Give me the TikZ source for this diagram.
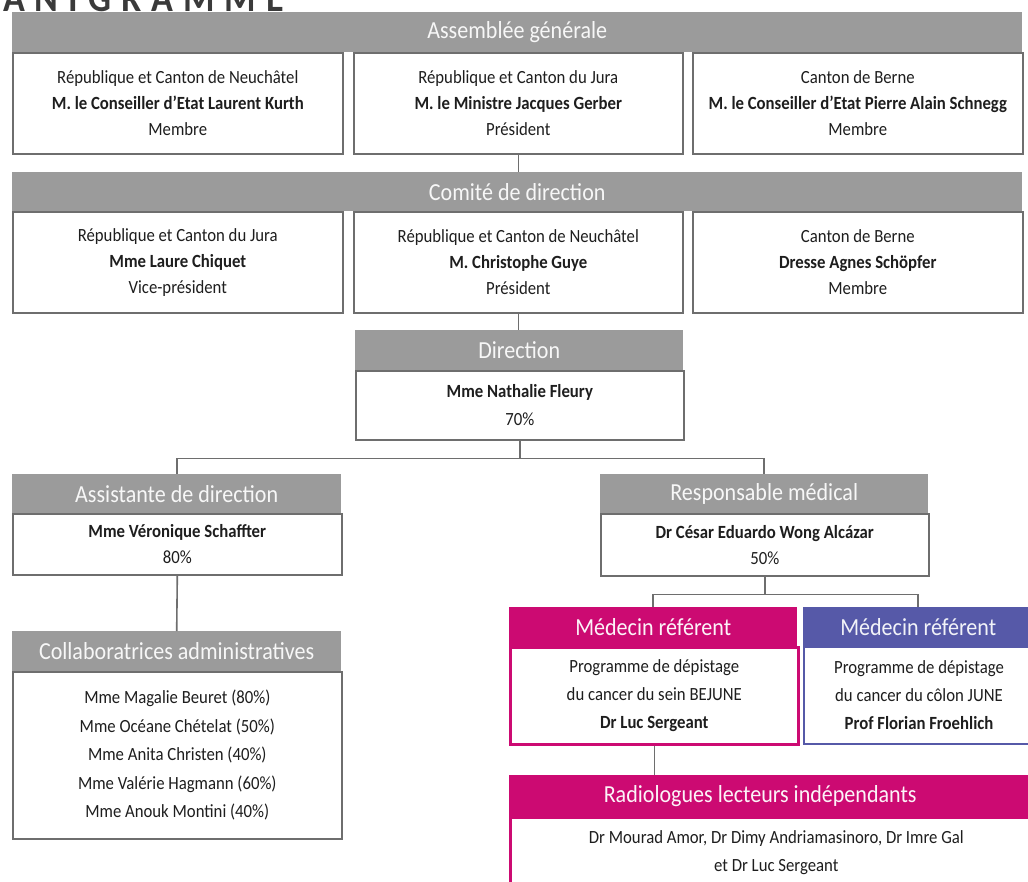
\documentclass[tikz,border=0pt]{standalone}
\usepackage{fontspec}
\setmainfont{Carlito}[FakeStretch=0.9]
\definecolor{hdrgray}{HTML}{9B9B9B}
\definecolor{boxline}{HTML}{6E6E6E}
\definecolor{pinkc}{HTML}{CC0A72}
\definecolor{bluec}{HTML}{5659A8}
\definecolor{txt}{HTML}{1E1E1E}
\definecolor{titlec}{HTML}{3A3A3A}
\tikzset{
  hdr/.style={fill=hdrgray, text=white!92!hdrgray, font=\fontsize{24.5}{26}\selectfont,
    inner sep=0pt, anchor=north west, minimum height=40pt},
  body/.style={draw=boxline, line width=1.6pt, fill=white, text=txt, align=center,
    anchor=north west, inner sep=0pt, font=\fontsize{18.6}{26}\selectfont},
  bodyw/.style={body, font=\fontsize{18.6}{28}\selectfont},
  pinkhdr/.style={hdr, fill=pinkc, text=white!95!pinkc},
  bluehdr/.style={hdr, fill=bluec, text=white!92!bluec},
  pinkbody/.style={bodyw, draw=pinkc, line width=2.6pt},
  bluebody/.style={bodyw, draw=bluec, line width=2pt},
  conn/.style={draw=boxline, line width=1.6pt},
}
\begin{document}
\begin{tikzpicture}[x=1pt,y=-1pt]
\useasboundingbox[fill=white] (0,0) rectangle (1028,881);
% title (clipped by the page edge)
\node[anchor=base east, inner sep=0pt, text=titlec,
  font=\fontsize{40}{42}\selectfont\bfseries\addfontfeatures{LetterSpace=25}] (title) at (284,11) {ORGANIGRAMME};

% Assemblee generale
\node[hdr, minimum width=1010pt] (agH) at (12,12) {Assemblée générale};
\node[body, minimum width=330pt, minimum height=101pt] (ag1) at (12,52)
  {République et Canton de Neuchâtel\\\textbf{M. le Conseiller d’Etat Laurent Kurth}\\Membre};
\node[body, minimum width=329pt, minimum height=101pt] (ag2) at (353,52)
  {République et Canton du Jura\\\textbf{M. le Ministre Jacques Gerber}\\Président};
\node[body, minimum width=330pt, minimum height=101pt] (ag3) at (692,52)
  {Canton de Berne\\\textbf{M. le Conseiller d’Etat Pierre Alain Schnegg}\\Membre};

% Comite de direction
\node[hdr, minimum width=1010pt, minimum height=39pt] (cdH) at (12,172) {Comité de direction};
\node[body, minimum width=330pt, minimum height=101pt] (cd1) at (12,211)
  {République et Canton du Jura\\\textbf{Mme Laure Chiquet}\\Vice-président};
\node[body, minimum width=329pt, minimum height=101pt] (cd2) at (353,211)
  {République et Canton de Neuchâtel\\\textbf{M. Christophe Guye}\\Président};
\node[body, minimum width=330pt, minimum height=101pt] (cd3) at (692,211)
  {Canton de Berne\\\textbf{Dresse Agnes Schöpfer}\\Membre};

% Direction
\node[hdr, minimum width=328pt] (dirH) at (355,330) {Direction};
\node[bodyw, minimum width=328pt, minimum height=69pt] (dir) at (355,370)
  {\textbf{Mme Nathalie Fleury}\\70\%};

% Assistante / Responsable
\node[hdr, minimum width=329pt, minimum height=39pt] (asH) at (12,474) {Assistante de direction};
\node[body, minimum width=329pt, minimum height=61pt] (as) at (12,513)
  {\textbf{Mme Véronique Schaffter}\\80\%};
\node[hdr, minimum width=328pt, minimum height=39pt] (rmH) at (600,474) {Responsable médical};
\node[body, minimum width=328pt, minimum height=62pt] (rm) at (600,513)
  {\textbf{Dr César Eduardo Wong Alcázar}\\50\%};

% Collaboratrices
\node[hdr, minimum width=329pt] (colH) at (12,631) {Collaboratrices administratives};
\node[bodyw, minimum width=329pt, minimum height=167pt, font=\fontsize{18.6}{28.5}\selectfont] (col) at (12,671)
  {Mme Magalie Beuret (80\%)\\Mme Océane Chételat (50\%)\\Mme Anita Christen (40\%)\\Mme Valérie Hagmann (60\%)\\Mme Anouk Montini (40\%)};

% Medecins referents
\node[pinkhdr, minimum width=288pt, minimum height=39pt] (mpH) at (509,607) {Médecin référent};
\node[pinkbody, minimum width=288pt, minimum height=97pt] (mp) at (509,646)
  {Programme de dépistage\\du cancer du sein BEJUNE\\\textbf{Dr Luc Sergeant}};
\node[bluehdr, minimum width=230pt, minimum height=39pt] (mbH) at (803,607) {Médecin référent};
\node[bluebody, minimum width=230pt, minimum height=97pt] (mb) at (803,646)
  {Programme de dépistage\\du cancer du côlon JUNE\\\textbf{Prof Florian Froehlich}};

% Radiologues
\node[pinkhdr, minimum width=532pt, minimum height=41pt] (rlH) at (509,775) {\hspace*{-30pt}Radiologues lecteurs indépendants};
\node[pinkbody, minimum width=532pt, minimum height=70pt] (rl) at (509,816)
  {Dr Mourad Amor, Dr Dimy Andriamasinoro, Dr Imre Gal\\et Dr Luc Sergeant};

% connectors
\draw[conn] (ag2.south) -- (ag2.south |- cdH.north);
\draw[conn] (cd2.south) -- (cd2.south |- dirH.north);
\draw[conn] (dir.south) -- ++(0,18) -| (asH.north);
\draw[conn] (dir.south) -- ++(0,18) -| (rmH.north);
\draw[conn] (as.south) -- (colH.north);
\draw[conn] (rm.south) -- ++(0,18) -| (mpH.north);
\draw[conn] (rm.south) -- ++(0,18) -| (mbH.north);
\draw[conn] (mp.south) -- (mp.south |- rlH.north);
\end{tikzpicture}
\end{document}
